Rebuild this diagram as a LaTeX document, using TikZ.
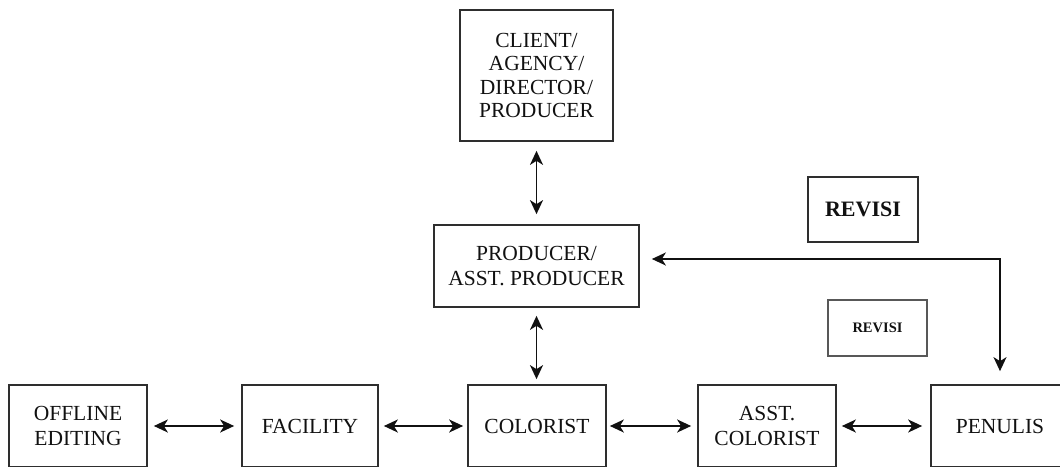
\documentclass[tikz,border=0pt]{standalone}
\usepackage{fontspec}
\setmainfont{Liberation Serif}
\usetikzlibrary{arrows.meta}
\definecolor{ink}{HTML}{111111}
\definecolor{edge}{HTML}{2E2E2E}
\tikzset{
  box/.style={draw=edge, line width=1.7pt, inner sep=0pt, align=center,
    text=ink, font=\fontsize{21.5}{23.5}\selectfont},
  revbig/.style={box, font=\bfseries\fontsize{22}{24}\selectfont},
  revsmall/.style={box, draw=edge!80, line width=2.1pt, font=\bfseries\fontsize{14.5}{17}\selectfont},
  tip/.style={Stealth[length=14pt,width=13pt,inset=4pt]},
  link/.style={draw=ink, line width=1.8pt, {Stealth[length=14pt,width=13pt,inset=4pt]}-{Stealth[length=14pt,width=13pt,inset=4pt]}},
}
\begin{document}
\begin{tikzpicture}[x=1pt, y=-1pt]
  \useasboundingbox (0,0) rectangle (1060,466);
  \begin{scope}
  \clip (0,0) rectangle (1060,466);
  % top of the chain
  \node[box, minimum width=153pt, minimum height=131pt] (client) at (536.5,75.5)
    {CLIENT/\\AGENCY/\\DIRECTOR/\\PRODUCER};
  \node[box, minimum width=205pt, minimum height=82pt, font=\fontsize{21.5}{25}\selectfont] (prod) at (536.5,266)
    {PRODUCER/\\ASST. PRODUCER};
  % revision labels
  \node[revbig, minimum width=110pt, minimum height=65pt] (revA) at (863,209.5) {REVISI};
  \node[revsmall, minimum width=99pt, minimum height=56pt] (revB) at (877.5,328) {REVISI};
  % bottom row
  \node[box, minimum width=138pt, minimum height=82pt, font=\fontsize{21.5}{25}\selectfont] (offline) at (78,426) {OFFLINE\\EDITING};
  \node[box, minimum width=136pt, minimum height=82pt] (facility) at (310,426) {FACILITY};
  \node[box, minimum width=138pt, minimum height=82pt] (colorist) at (537,426) {COLORIST};
  \node[box, minimum width=138pt, minimum height=82pt, font=\fontsize{21.5}{25}\selectfont] (asst) at (767,426) {ASST.\\COLORIST};
  \node[box, minimum width=138pt, minimum height=82pt] (penulis) at (1000,426) {PENULIS};
  % vertical links
  \draw[link, shorten <=9pt, shorten >=10pt] (client.south) -- (prod.north);
  \draw[link, shorten <=8pt, shorten >=5pt] (prod.south) -- (prod.south |- colorist.north);
  % horizontal links
  \draw[link, shorten <=6pt, shorten >=7pt] (offline.east) -- (facility.west);
  \draw[link, shorten <=5pt, shorten >=4pt] (facility.east) -- (colorist.west);
  \draw[link, shorten <=3pt, shorten >=6pt] (colorist.east) -- (asst.west);
  \draw[link, shorten <=5pt, shorten >=8pt] (asst.east) -- (penulis.west);
  % revision loop back to the producer
  \draw[link, shorten <=12pt, shorten >=13pt] ([yshift=7pt]prod.east) -| (penulis.north);
  \end{scope}
\end{tikzpicture}
\end{document}
